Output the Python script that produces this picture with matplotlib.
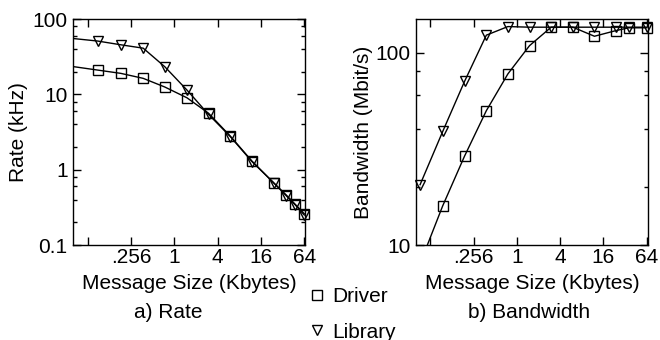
import numpy as np
import matplotlib
matplotlib.use("Agg")
import matplotlib.pyplot as plt
from matplotlib.ticker import FixedLocator, FixedFormatter, NullFormatter

plt.rcParams['font.family'] = ['Liberation Sans', 'DejaVu Sans']
plt.rcParams['font.size'] = 15

# message sizes (Kbytes)
rate_x = [0.04, 0.086, 0.18, 0.37, 0.74, 1.5, 3, 6, 12, 24, 36, 48, 64]
rate_driver = [23.3, 21, 19, 16.3, 12.5, 9.0, 5.6, 2.79, 1.30, 0.67, 0.46, 0.346, 0.26]
rate_library = [55, 51, 45.5, 41, 23.2, 11.4, 5.4, 2.75, 1.28, 0.67, 0.45, 0.34, 0.25]

bw_x = [0.045, 0.093, 0.187, 0.376, 0.75, 1.5, 3, 6, 12, 24, 36, 64]
bw_driver = [8.0, 16, 29, 50, 77.7, 109, 136, 136, 122, 130.6, 135, 135]
bw_library = [20.6, 39, 71, 123.6, 137, 136, 136, 136, 136, 136, 136, 136]

xtick_vals = [0.0625, 0.25, 1, 4, 16, 64]
xtick_labels = ["", ".256", "1", "4", "16", "64"]

mk = dict(color="black", lw=1, mfc="none", mec="black", mew=1, ms=7)


def __style_axes(ax):
    ax.set_xscale("log", base=2)
    ax.set_yscale("log")
    ax.set_xlim(0.0395, 66)
    ax.xaxis.set_major_locator(FixedLocator(xtick_vals))
    ax.xaxis.set_major_formatter(FixedFormatter(xtick_labels))
    ax.xaxis.set_minor_locator(FixedLocator([]))
    ax.tick_params(which="both", direction="in", top=True, right=True, width=1)
    ax.tick_params(which="major", length=6)
    ax.tick_params(which="minor", length=3)
    ax.tick_params(axis="x", pad=2)
    ax.tick_params(axis="y", pad=4)
    for s in ax.spines.values():
        s.set_linewidth(1)
    ax.set_xlabel("Message Size (Kbytes)", labelpad=5)


def __minor_y(lo, hi):
    ticks = []
    d = lo
    while d < hi:
        for m in (2, 4, 6, 8):
            if d * m < hi:
                ticks.append(d * m)
        d *= 10
    return ticks


def __series(ax, x, y, marker, first):
    # line clipped to the frame, markers drawn whole
    ax.plot(x, y, color="black", lw=1)
    ax.plot(x[first:], y[first:], ls="none", marker=marker, clip_on=False, zorder=3,
            mfc="none", mec="black", mew=1, ms=7)


fig = plt.figure(figsize=(6.6, 3.4), dpi=100)
ax1 = fig.add_axes([0.111, 0.2794, 0.3515, 0.6647])
ax2 = fig.add_axes([0.6303, 0.2794, 0.351, 0.6647])

__series(ax1, rate_x, rate_driver, "s", 1)
__series(ax1, rate_x, rate_library, "v", 1)
__style_axes(ax1)
ax1.set_ylim(0.1, 100)
ax1.yaxis.set_major_locator(FixedLocator([0.1, 1, 10, 100]))
ax1.yaxis.set_major_formatter(FixedFormatter(["0.1", "1", "10", "100"]))
ax1.yaxis.set_minor_locator(FixedLocator(__minor_y(0.1, 100)))
ax1.yaxis.set_minor_formatter(NullFormatter())
ax1.set_ylabel("Rate (kHz)", labelpad=3)

__series(ax2, bw_x, bw_driver, "s", 1)
__series(ax2, bw_x, bw_library, "v", 0)
__style_axes(ax2)
ax2.set_ylim(10, 150)
ax2.yaxis.set_major_locator(FixedLocator([10, 100]))
ax2.yaxis.set_major_formatter(FixedFormatter(["10", "100"]))
ax2.yaxis.set_minor_locator(FixedLocator(__minor_y(10, 150)))
ax2.yaxis.set_minor_formatter(NullFormatter())
ax2.set_ylabel("Bandwidth (Mbit/s)", labelpad=2)

fig.text(168 / 660, 1 - 313 / 340, "a) Rate", ha="center", va="center")
fig.text(529 / 660, 1 - 313 / 340, "b) Bandwidth", ha="center", va="center")

# legend between the two panels
fig.lines.append(plt.Line2D([316.7 / 660], [1 - 295 / 340], marker="s", **mk, transform=fig.transFigure))
fig.lines.append(plt.Line2D([316.7 / 660], [1 - 330 / 340], marker="v", **mk, transform=fig.transFigure))
fig.text(332 / 660, 1 - 296 / 340, "Driver", ha="left", va="center")
fig.text(332 / 660, 1 - 332 / 340, "Library", ha="left", va="center")

fig.savefig("out.png", dpi=100)
